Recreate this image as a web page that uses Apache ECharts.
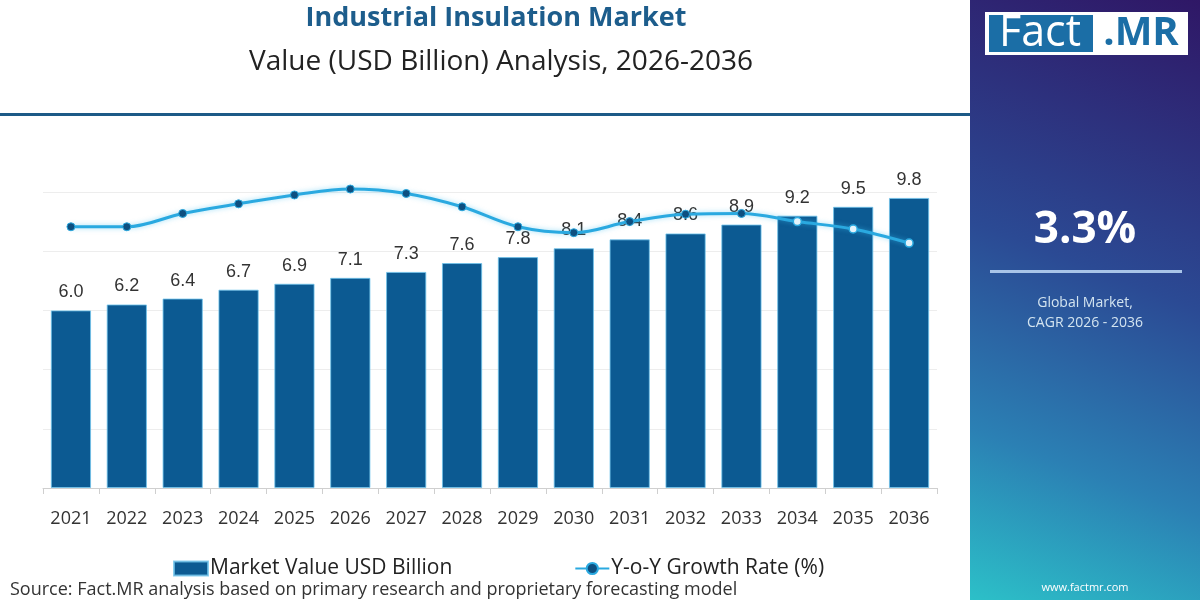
<!DOCTYPE html>
<html>
<head>
<meta charset="utf-8">
<script src="https://cdn.jsdelivr.net/npm/echarts@6/dist/echarts.min.js"></script>
<style>
html,body{margin:0;padding:0;background:#fff;}
#chart{width:1200px;height:600px;}
</style>
</head>
<body>
<div id="chart"></div>
<script>
const years = ['2021','2022','2023','2024','2025','2026','2027','2028','2029','2030','2031','2032','2033','2034','2035','2036'];
const marketValue = [6.0,6.2,6.4,6.7,6.9,7.1,7.3,7.6,7.8,8.1,8.4,8.6,8.9,9.2,9.5,9.8];
const growthRate = [3.53,3.53,3.71,3.84,3.96,4.04,3.98,3.80,3.53,3.45,3.60,3.70,3.71,3.60,3.50,3.31];
const cagrText = '3.3%';

const chart = echarts.init(document.getElementById('chart'));
const lineBlue = '#2aa9e0';
const barBlue = '#0c5a92';

const option = {
  backgroundColor: '#ffffff',
  animation: false,
  grid: { left: 43, right: 263, top: 192, bottom: 112, containLabel: false },
  xAxis: {
    type: 'category',
    data: years,
    axisLine: { show: true, lineStyle: { color: '#cfcfcf', width: 1 } },
    axisTick: { show: true, length: 6, lineStyle: { color: '#cfcfcf' } },
    axisLabel: { color: '#333', fontSize: 18, fontFamily: 'Open Sans', margin: 22 }
  },
  yAxis: [
    {
      type: 'value', min: 0, max: 10, interval: 2,
      axisLabel: { show: false }, axisLine: { show: false }, axisTick: { show: false },
      splitLine: { show: true, lineStyle: { color: '#ededed', width: 1 } }
    },
    {
      type: 'value', min: 0, max: 4, interval: 1,
      axisLabel: { show: false }, axisLine: { show: false }, axisTick: { show: false },
      splitLine: { show: false }
    }
  ],
  legend: {
    left: 168, top: 553,
    itemWidth: 34, itemHeight: 14, itemGap: 122,
    textStyle: { color: '#222', fontSize: 21, fontFamily: 'Open Sans', padding: [0, 0, 0, -3] },
    data: [
      { name: 'Market Value USD Billion', icon: 'rect' },
      { name: 'Y-o-Y Growth Rate (%)' }
    ]
  },
  series: [
    {
      name: 'Market Value USD Billion',
      type: 'bar',
      data: marketValue,
      barWidth: '72%',
      itemStyle: { color: barBlue, borderColor: 'rgba(110,195,235,0.8)', borderWidth: 1 },
      label: {
        show: true, position: 'top', distance: 9,
        color: '#333', fontSize: 18, fontFamily: 'Liberation Sans',
        formatter: p => p.value.toFixed(1)
      },
      z: 2
    },
    {
      name: 'Y-o-Y Growth Rate (%)',
      type: 'line',
      yAxisIndex: 1,
      smooth: 0.35,
      clip: false,
      data: growthRate.map((v, i) => ({
        value: v,
        itemStyle: i >= 13
          ? { color: '#e3f3fb', borderColor: lineBlue, borderWidth: 1.5 }
          : { color: '#0d4f80', borderColor: lineBlue, borderWidth: 1 }
      })),
      symbol: 'circle',
      symbolSize: 8,
      itemStyle: { color: '#0d4f80', borderColor: lineBlue, borderWidth: 1 },
      lineStyle: { color: lineBlue, width: 3, shadowColor: 'rgba(60,190,240,0.5)', shadowBlur: 5 },
      z: 5
    }
  ],
  graphic: [
    {
      type: 'text', x: 496, y: 18,
      style: { text: 'Industrial Insulation Market', fill: '#1d5d8c', fontSize: 27, fontWeight: 'bold', fontFamily: 'Open Sans', align: 'center', verticalAlign: 'middle' }
    },
    {
      type: 'text', x: 501, y: 62,
      style: { text: 'Value (USD Billion) Analysis, 2026-2036', fill: '#222', fontSize: 28, fontFamily: 'Open Sans', align: 'center', verticalAlign: 'middle' }
    },
    {
      type: 'rect', shape: { x: 0, y: 113, width: 970, height: 3 },
      style: { fill: '#1d5a87' }
    },
    {
      type: 'text', x: 10, y: 590,
      style: { text: 'Source: Fact.MR analysis based on primary research and proprietary forecasting model', fill: '#333', fontSize: 18, fontFamily: 'Open Sans', align: 'left', verticalAlign: 'middle' }
    },
    {
      type: 'rect', shape: { x: 970, y: 0, width: 230, height: 600 },
      style: {
        fill: new echarts.graphic.LinearGradient(1, 0, 0, 1, [
          { offset: 0, color: '#2f1766' },
          { offset: 0.45, color: '#2b4a94' },
          { offset: 0.75, color: '#2b80b4' },
          { offset: 1, color: '#2cc0c8' }
        ])
      }
    },
    {
      type: 'rect', shape: { x: 985, y: 12, width: 203, height: 43 },
      style: { fill: '#ffffff' }
    },
    {
      type: 'rect', shape: { x: 989, y: 15, width: 104, height: 37 },
      style: { fill: '#1b6ea6' }
    },
    {
      type: 'text', x: 1040, y: 34,
      style: { text: 'Fact', fill: '#ffffff', fontSize: 43, fontFamily: 'Open Sans', align: 'center', verticalAlign: 'middle' }
    },
    {
      type: 'text', x: 1141, y: 34,
      style: { text: '.MR', fill: '#1b6ea6', fontSize: 40, fontWeight: 'bold', fontFamily: 'Open Sans', align: 'center', verticalAlign: 'middle' }
    },
    {
      type: 'text', x: 1085, y: 230,
      style: { text: cagrText, fill: '#ffffff', fontSize: 44, fontWeight: 'bold', fontFamily: 'Open Sans', align: 'center', verticalAlign: 'middle' }
    },
    {
      type: 'rect', shape: { x: 990, y: 270, width: 192, height: 3 },
      style: { fill: '#a9c4e8' }
    },
    {
      type: 'text', x: 1085, y: 303,
      style: { text: 'Global Market,', fill: '#d3e4f0', fontSize: 14, fontFamily: 'Open Sans', align: 'center', verticalAlign: 'middle' }
    },
    {
      type: 'text', x: 1085, y: 323,
      style: { text: 'CAGR 2026 - 2036', fill: '#d3e4f0', fontSize: 14, fontFamily: 'Open Sans', align: 'center', verticalAlign: 'middle' }
    },
    {
      type: 'text', x: 1085, y: 588,
      style: { text: 'www.factmr.com', fill: '#ffffff', fontSize: 11, fontFamily: 'Open Sans', align: 'center', verticalAlign: 'middle' }
    }
  ]
};
chart.setOption(option);
</script>
</body>
</html>
